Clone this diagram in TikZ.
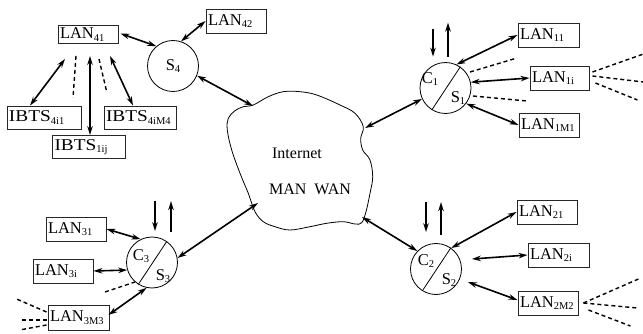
\documentclass[tikz,border=0pt]{standalone}
\usepackage{fontspec}
\usepackage{graphicx}
\setmainfont{Liberation Serif}
\usetikzlibrary{arrows.meta,calc}
\newcommand\sbx[1]{\raisebox{-2.5pt}{\fontsize{10.5}{10.5}\selectfont #1}}
\newcommand\ibts{\scalebox{1.17}[1]{IBTS}}
\begin{document}
\begin{tikzpicture}[x=1pt,y=-1pt,
  box/.style={draw=black!85, line width=0.9pt, minimum height=24pt, inner xsep=2pt, inner ysep=0pt, align=left, font=\fontsize{16.5}{16.5}\selectfont},
  stn/.style={draw, circle, line width=0.8pt, minimum size=51pt, inner sep=0pt, font=\fontsize{16.5}{16.5}\selectfont},
  thinl/.style={line width=0.8pt},
  dbl/.style={line width=1.6pt, {Stealth[length=9pt,width=5.5pt]}-{Stealth[length=9pt,width=5.5pt]}},
  sgl/.style={line width=1.6pt, -{Stealth[length=9pt,width=5.5pt]}},
  dsh/.style={line width=1.4pt, dash pattern=on 4pt off 3pt},
  lbl/.style={font=\fontsize{16.5}{16.5}\selectfont, inner sep=0pt},
  cloudtxt/.style={font=\fontsize{16}{16}\selectfont, inner sep=0pt}]
\useasboundingbox (0,0) rectangle (643,334);

% ---------- cloud ----------
\draw[line width=0.8pt] plot[smooth cycle, tension=0.6] coordinates {
 (253.3,105) (268.3,96.7) (283.3,91.7) (300,91.7) (316.7,95) (340,105)
 (355,113.3) (363.3,126.7) (360.7,138.3) (362.7,150) (370,160) (372.7,176.7)
 (370,193.3) (366,211.7) (361.7,222.7) (355,224) (343.3,221.7) (326.7,223.3)
 (310,226.7) (290,230) (275,226.7) (263.3,221.7) (255,211.7) (248.3,193.3)
 (240,173.3) (231.7,150) (227.3,130) (228.3,118.3) (235,110.7) (243.3,106.7)};
\node[cloudtxt] (inet) at (297,153) {Internet};
\node[cloudtxt] (manwan) at (310,189) {MAN\hspace{8pt}WAN};
\coordinate (cl1) at (253,106);
\coordinate (cl2) at (365,128);
\coordinate (cl3) at (362,217);
\coordinate (cl4) at (258,203);

% ---------- top left group ----------
\node[box, text width=56pt, minimum height=18pt] (lan41) at (88,34.5) {LAN\sbx{41}};
\node[stn] (s4) at (173,66) {S\sbx{4}};
\node[box, text width=56pt] (lan42) at (236,21) {LAN\sbx{42}};
\node[box, text width=70pt, minimum height=23pt] (ibts4i1) at (44,117.5) {\ibts\sbx{4i1}};
\node[box, text width=69pt, minimum height=23pt] (ibts1ij) at (89,147) {\ibts\sbx{1ij}};
\node[box, text width=68pt, minimum height=23pt] (ibts4iM4) at (140,117.5) {\ibts\sbx{4iM4}};

\draw[dbl] ($(lan41.south)+(-23,15)$) -- ($(ibts4i1.north)+(-14,0)$);
\draw[dbl] ($(lan41.south)+(2,12)$) -- ($(ibts1ij.north)+(1,0)$);
\draw[dbl] ($(lan41.south)+(22,12)$) -- ($(ibts4iM4.north)+(-7,0)$);
\draw[dsh] ($(lan41.south)+(-12,12)$) -- ++(-3,42);
\draw[dsh] ($(lan41.south)+(11,15)$) -- ++(8,34);
\draw[dbl] ($(lan41.east)+(2,-1)$) -- (s4.130);
\draw[dbl] (s4.72) -- (lan42.west);
\draw[dbl] (s4.-22) -- (cl1);

% ---------- C1/S1 ----------
\node[stn] (c1) at (445.5,88) {};
\draw[thinl] (c1.55) -- (c1.238);
\node[lbl] (c1c) at (430,79) {C\sbx{1}};
\node[lbl] (c1s) at (458,98) {S\sbx{1}};
\node[box, text width=57pt] (lan11) at (548.5,35) {LAN\sbx{11}};
\node[box, text width=55pt] (lan1i) at (559.5,78) {LAN\sbx{1i}};
\node[box, text width=56pt] (lan1M1) at (549,125) {LAN\sbx{1M1}};
\draw[sgl] ($(c1.north)+(-12.5,-33.5)$) -- ++(0,28);
\draw[sgl] ($(c1.north)+(2.5,-5.5)$) -- ++(0,-34);
\draw[dbl] (c1.65) -- (lan11.west);
\draw[dbl] (c1.13) -- (lan1i.west);
\draw[dbl] (c1.-37) -- (lan1M1.west);
\draw[dsh] ($(c1)+(24.5,-16)$) -- ++(47,-14);
\draw[dsh] ($(c1)+(27.5,8)$) -- ++(54,5);
\draw[dsh] ($(lan1i.east)+(3,-6)$) -- ++(51,-18);
\draw[dsh] ($(lan1i.east)+(3,-2)$) -- ++(51,6);
\draw[dsh] ($(lan1i.east)+(6,5)$) -- ++(42,17);
\draw[dbl] (cl2) -- (c1.205);

% ---------- C2/S2 ----------
\node[stn] (c2) at (436,269) {};
\draw[thinl] (c2.55) -- (c2.238);
\node[lbl] (c2c) at (426,261) {C\sbx{2}};
\node[lbl] (c2s) at (449,280) {S\sbx{2}};
\node[box, text width=56pt] (lan21) at (547,212) {LAN\sbx{21}};
\node[box, text width=57pt] (lan2i) at (558.5,255) {LAN\sbx{2i}};
\node[box, text width=56pt] (lan2M2) at (548,303) {LAN\sbx{2M2}};
\draw[sgl] ($(c2.north)+(-10,-41)$) -- ++(0,30);
\draw[sgl] ($(c2.north)+(5,-8)$) -- ++(0,-33);
\draw[dbl] (c2.54) -- (lan21.west);
\draw[dbl] ($(c2.east)+(10,-10)$) -- (lan2i.west);
\draw[dbl] ($(c2.east)+(6,13)$) -- ($(lan2M2.west)+(0,-3)$);
\draw[dsh] ($(lan2M2.east)+(5,0)$) -- ++(55,-24);
\draw[dsh] ($(lan2M2.east)+(5,0)$) -- ++(54,5);
\draw[dsh] ($(lan2M2.east)+(10,7)$) -- ++(42,16);
\draw[dbl] (cl3) -- (c2.136);

% ---------- C3/S3 ----------
\node[stn] (c3) at (152,262.5) {};
\draw[thinl] (c3.55) -- (c3.238);
\node[lbl] (c3c) at (141,256) {C\sbx{3}};
\node[lbl] (c3s) at (163,276) {S\sbx{3}};
\node[box, text width=56pt] (lan31) at (76,229) {LAN\sbx{31}};
\node[box, text width=56pt] (lan3i) at (63,271) {LAN\sbx{3i}};
\node[box, text width=57pt, minimum height=25pt] (lan3M3) at (78.5,317.5) {LAN\sbx{3M3}};
\draw[sgl] ($(c3.north)+(3,-35.5)$) -- ++(0,30);
\draw[sgl] ($(c3.north)+(19,-4.5)$) -- ++(0,-31);
\draw[dbl] (lan31.east) -- (c3.116);
\draw[dbl] (lan3i.east) -- (c3.197);
\draw[dbl] ($(lan3M3.east)+(-1,-2.5)$) -- (c3.258);
\draw[dsh] ($(c3)+(-47,29.5)$) -- ++(30,-10);
\draw[dsh] ($(lan3M3.west)+(-1,-5.5)$) -- ++(-30,-13);
\draw[dsh] ($(lan3M3.west)+(-1,2.5)$) -- ++(-26,0);
\draw[dsh] ($(lan3M3.west)+(-1,7.5)$) -- ++(-27,5);
\draw[dbl] (cl4) -- (c3.10);
\end{tikzpicture}
\end{document}
